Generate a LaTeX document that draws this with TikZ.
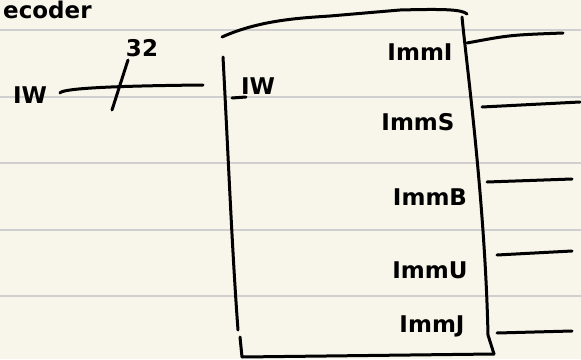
\documentclass[tikz,border=0pt]{standalone}
\usepackage{fontspec}
\setmainfont{DejaVu Sans}
\begin{document}
\begin{tikzpicture}[x=1pt,y=-1pt,
  ink/.style={line width=3pt,line cap=round,line join=round,draw=black},
  rule/.style={line width=1.5pt,draw=ruleg},
  lbl/.style={font=\fontsize{23}{23}\selectfont\bfseries,inner sep=0pt}]
\definecolor{paper}{HTML}{F8F6EA}
\definecolor{ruleg}{HTML}{CFCFCF}
\fill[paper] (0,0) rectangle (581,359);
\useasboundingbox (0,0) rectangle (581,359);
% ruled lines
\foreach \y in {30,97,163,230,296} \draw[rule] (0,\y) -- (581,\y);
% title fragment
\node[lbl,anchor=north west] (title) at (3,1) {ecoder};
% box
\coordinate (tl) at (222,37);
\coordinate (tr) at (467,14);
\coordinate (rt) at (462,17);
\coordinate (br) at (494,354);
\coordinate (bl) at (242,357);
\draw[ink] (tl) .. controls (260,20) and (300,18) .. (330,16) -- (400,10) .. controls (440,9) and (462,9) .. (tr);
\draw[ink] (223,57) .. controls (228,150) and (232,250) .. (238,330);
\draw[ink] (240,337) -- (bl) -- (br);
\draw[ink] (rt) .. controls (466,60) and (485,200) .. (488,335) -- (br);
% labels in box
\node[lbl] (iw2) at (258,86) {IW};
\draw[ink] (232,98) -- (246,97);
\node[lbl] (immI) at (420,52) {ImmI};
\node[lbl] (immS) at (418,122) {ImmS};
\node[lbl] (immB) at (430,197) {ImmB};
\node[lbl] (immU) at (430,270) {ImmU};
\node[lbl] (immJ) at (432,326) {ImmJ};
% output connectors
\coordinate (oI0) at (467,43); \coordinate (oI1) at (563,33);
\coordinate (oS0) at (482,107); \coordinate (oS1) at (580,102);
\coordinate (oB0) at (487,182); \coordinate (oB1) at (572,179);
\coordinate (oU0) at (497,255); \coordinate (oU1) at (572,251);
\coordinate (oJ0) at (497,333); \coordinate (oJ1) at (572,331);
\draw[ink] (oI0) .. controls (510,35) .. (oI1);
\draw[ink] (oS0) -- (oS1);
\draw[ink] (oB0) -- (oB1);
\draw[ink] (oU0) -- (oU1);
\draw[ink] (oJ0) -- (oJ1);
% input
\node[lbl] (iw) at (30,95) {IW};
\coordinate (in0) at (60,93);
\coordinate (in1) at (203,85);
\draw[ink] (in0) .. controls (62,89) and (100,86) .. (in1);
\coordinate (s0) at (112,110);
\coordinate (s1) at (128,60);
\draw[ink] (s0) -- (s1);
\node[lbl] (w32) at (142,48) {32};
\end{tikzpicture}
\end{document}
